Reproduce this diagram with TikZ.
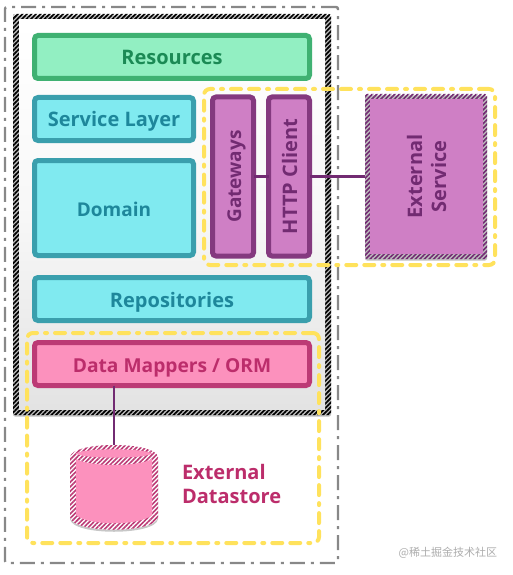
\documentclass[tikz,border=0pt]{standalone}
\usepackage{fontspec}
\setmainfont{Open Sans}
\newfontfamily\cjkwm{Noto Sans CJK SC}
\usetikzlibrary{patterns.meta,shadows,calc}
\definecolor{grnF}{HTML}{92EFC2}\definecolor{grnD}{HTML}{3FB172}\definecolor{grnT}{HTML}{1B8A55}
\definecolor{cyaF}{HTML}{80EAF0}\definecolor{cyaD}{HTML}{3A9FAD}\definecolor{cyaT}{HTML}{1E879B}
\definecolor{purF}{HTML}{CF7FC5}\definecolor{purD}{HTML}{84397F}\definecolor{purT}{HTML}{722B72}
\definecolor{pnkF}{HTML}{FC91BD}\definecolor{pnkD}{HTML}{BC3A75}\definecolor{pnkT}{HTML}{BC2D6B}
\definecolor{yel}{HTML}{FFE25C}\definecolor{gry}{HTML}{888888}
\tikzset{
  x=1pt,y=-1pt,
  every node/.style={outer sep=0pt,inner sep=0pt,font=\bfseries\fontsize{20}{24}\selectfont,align=center},
  softshadow/.style={drop shadow={shadow xshift=0pt,shadow yshift=-1.5pt,opacity=.25,fill=black}},
  box/.style={draw,line width=5pt,rounded corners=3.5pt,softshadow},
  grn/.style={box,draw=grnD,fill=grnF,text=grnT},
  cya/.style={box,draw=cyaD,fill=cyaF,text=cyaT},
  pur/.style={box,draw=purD,fill=purF,text=purT},
  pnk/.style={box,draw=pnkD,fill=pnkF,text=pnkT},
  hatchblack/.style={preaction={fill=white},pattern={Lines[angle=45,distance=3.2pt,line width=1.7pt]},pattern color=black},
  hatchpur/.style={preaction={fill=white},pattern={Lines[angle=45,distance=3.2pt,line width=1.6pt]},pattern color=purT},
  hatchpnk/.style={preaction={fill=white},pattern={Lines[angle=45,distance=3.2pt,line width=1.6pt]},pattern color=pnkD},
  yelbox/.style={draw=yel,line width=4pt,rounded corners=6pt,line cap=round,dash pattern=on 10pt off 8pt on 10pt off 8pt on 2pt off 8pt},
  grybox/.style={draw=gry,line width=2.4pt,rounded corners=2pt,dash pattern=on 15pt off 6pt on 3pt off 6pt},
  wire/.style={draw=purT,line width=2.2pt},
  txtlow/.style={text height=16pt,text depth=0pt},
}
\begin{document}
\begin{tikzpicture}
\useasboundingbox[fill=white] (0,0) rectangle (512,575);
% outer boundary
\node[grybox,minimum width=333pt,minimum height=556pt] (outer) at (171.5,285) {};
% application frame
\node[rounded corners=2pt,minimum width=318pt,minimum height=401pt,hatchblack,softshadow] (app) at (172,214.5) {};
\node[minimum width=306pt,minimum height=389pt,top color=white,bottom color=black!11,middle color=black!3] (appin) at (172,214.5) {};
% layers
\node[grn,txtlow,minimum width=275pt,minimum height=43pt] (res) at (172,57) {Resources};
\node[cya,txtlow,minimum width=159pt,minimum height=43pt] (svc) at (114,119) {Service Layer};
\node[cya,txtlow,minimum width=159pt,minimum height=95pt,font=\bfseries\fontsize{19}{23}\selectfont] (dom) at (114,208) {Domain};
\node[cya,txtlow,minimum width=275pt,minimum height=43pt] (rep) at (172,299) {Repositories};
\node[pnk,txtlow,minimum width=275pt,minimum height=43pt,font=\bfseries\fontsize{19.2}{23}\selectfont] (dm) at (172,364) {Data Mappers / ORM};
\node[pur,txtlow,rotate=90,minimum width=159pt,minimum height=41pt,font=\bfseries\fontsize{19}{23}\selectfont] (gw) at (233,176.5) {Gateways};
\node[pur,txtlow,rotate=90,minimum width=159pt,minimum height=41pt] (http) at (289,176.5) {HTTP Client};
% external service
\node[rounded corners=2pt,minimum width=122pt,minimum height=165pt,hatchpur,softshadow] (extframe) at (426,176.5) {};
\node[rotate=90,fill=purF,text=purT,minimum width=155pt,minimum height=113pt] (ext) at (426.5,176.5) {External\\Service};
% datastore
\coordinate (cyltop) at (114,445);
\fill[black,opacity=.22] (70,460) -- (70,519) .. controls (72,536) and (156,536) .. (158,519) -- (158,460) -- cycle;
\path[hatchpnk] (70,457) .. controls (72,441) and (156,441) .. (158,457) -- (158,517)
  .. controls (156,534) and (72,534) .. (70,517) -- cycle;
\fill[pnkF] (76,453.5) .. controls (82,448) and (146,448) .. (152,453.5) .. controls (146,459) and (82,459) .. (76,453.5) -- cycle;
\fill[pnkF] (76,459) .. controls (90,467) and (138,467) .. (152,459) -- (152,515)
  .. controls (140,526) and (88,526) .. (76,515) -- cycle;
\node[anchor=west,text=pnkT,align=left,font=\bfseries\fontsize{20}{24}\selectfont] (dstxt) at (182,484) {External\\Datastore};
% connectors
\draw[wire] (gw.south) -- (http.north);
\draw[wire] (http.south) -- (extframe.west);
\draw[wire] (dm.south -| cyltop) -- (cyltop);
% dashed groups
\node[yelbox,minimum width=291pt,minimum height=176pt] (extgrp) at (349.5,177) {};
\node[yelbox,minimum width=292pt,minimum height=210pt] (dsgrp) at (173,438) {};
% watermark
\node[anchor=east,text=black!32,font=\cjkwm\fontsize{11}{13}\selectfont] (wm) at (497,553) {@稀土掘金技术社区};
\end{tikzpicture}
\end{document}
